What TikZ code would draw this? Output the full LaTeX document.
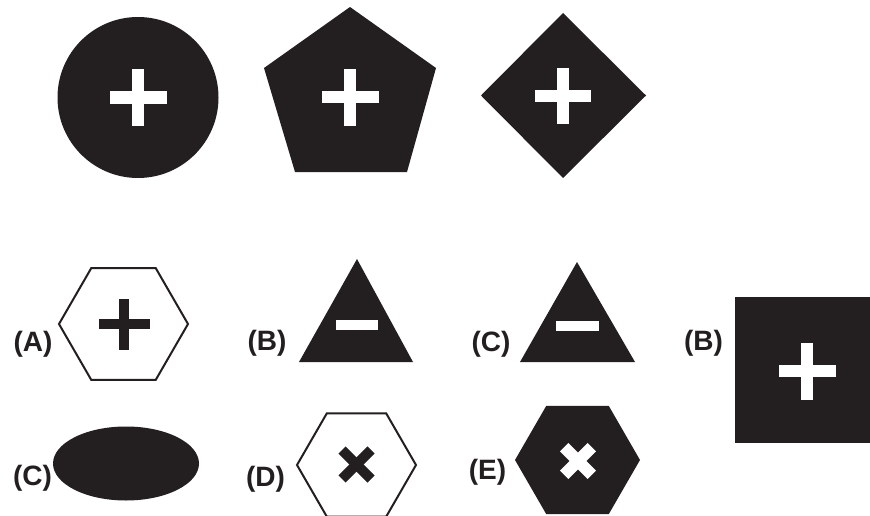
\documentclass[tikz,border=0pt]{standalone}
\usepackage{fontspec}
\setmainfont{Liberation Sans}
\definecolor{ink}{HTML}{231F20}
\newcommand\plusglyph[5]{%
  \fill[#5] ({#1-#3},{#2-#4/2}) rectangle ({#1+#3},{#2+#4/2});
  \fill[#5] ({#1-#4/2},{#2-#3}) rectangle ({#1+#4/2},{#2+#3});}
\newcommand\crossglyph[5]{%
  \draw[#5,line width=#4pt,line cap=butt] ({#1-#3},{#2-#3}) -- ({#1+#3},{#2+#3});
  \draw[#5,line width=#4pt,line cap=butt] ({#1-#3},{#2+#3}) -- ({#1+#3},{#2-#3});}
\newcommand\hexpath[3]{({#1+#3},#2) -- ({#1+#3/2},{#2-0.8660254*#3}) -- ({#1-#3/2},{#2-0.8660254*#3}) -- ({#1-#3},#2) -- ({#1-#3/2},{#2+0.8660254*#3}) -- ({#1+#3/2},{#2+0.8660254*#3}) -- cycle}
\begin{document}
\begin{tikzpicture}[x=1pt,y=-1pt,
  solid/.style={fill=ink,draw=none},
  outl/.style={draw=ink,line width=2pt,fill=white,line join=miter},
  lbl/.style={font=\bfseries\fontsize{28}{28}\selectfont,inner sep=0pt,text=ink}]
\useasboundingbox[fill=white] (0,0) rectangle (870,516);
% top row
\fill[solid] (138,97.5) circle [radius=80.5pt];
\plusglyph{138}{97.5}{28.5}{12.5}{white}
\fill[solid] (350,7) -- (436,68) -- (407,172) -- (295,172) -- (264,68) -- cycle;
\plusglyph{350}{97.5}{28.5}{12}{white}
\fill[solid] (563,13) -- (646,95.5) -- (563,178) -- (481,95.5) -- cycle;
\plusglyph{563}{96}{28}{12}{white}
% row 2
\node[lbl] (labA) at (33,344) {(A)};
\draw[outl] \hexpath{123.5}{324}{64.5};
\plusglyph{124}{324}{25.5}{10.5}{ink}
\node[lbl] (labB) at (267,343.5) {(B)};
\fill[solid] (357,259) -- (413,362) -- (299,362) -- cycle;
\fill[white] (336,320) rectangle (378,329.5);
\node[lbl] (labC) at (491,344) {(C)};
\fill[solid] (577,262) -- (635,362) -- (520,362) -- cycle;
\fill[white] (556,321) rectangle (599,330.5);
\node[lbl] (labB2) at (703.5,343.5) {(B)};
\fill[solid] (735,297) rectangle (870,443);
\plusglyph{807}{371}{28.5}{12.5}{white}
% row 3
\node[lbl] (labC2) at (32.5,478.5) {(C)};
\fill[solid] (126,463.5) ellipse [x radius=73pt, y radius=37pt];
\node[lbl] (labD) at (265.5,479) {(D)};
\draw[outl] \hexpath{356.5}{465}{59.5};
\crossglyph{356.5}{464.5}{14.5}{10}{ink}
\node[lbl] (labE) at (487.5,472.5) {(E)};
\fill[solid] \hexpath{577.5}{460}{62.5};
\crossglyph{578}{461}{13.8}{12}{white}
\end{tikzpicture}
\end{document}
